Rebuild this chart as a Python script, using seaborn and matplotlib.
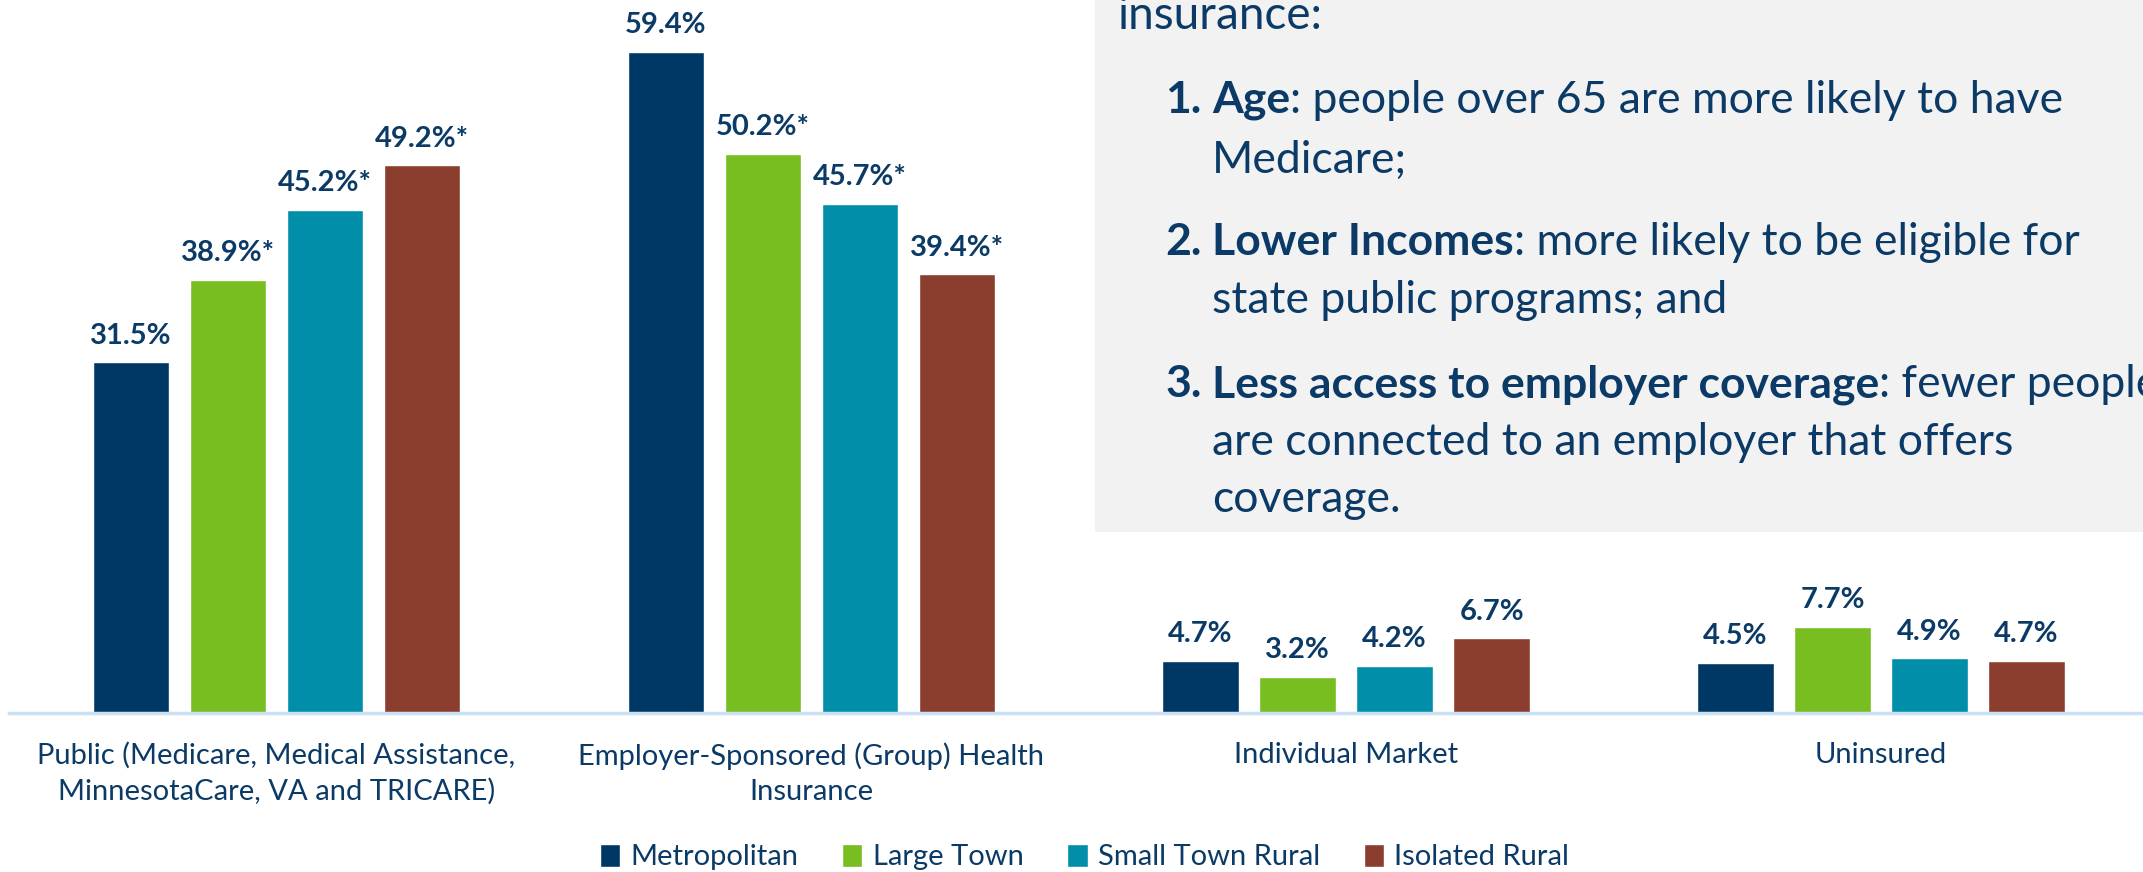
import matplotlib
matplotlib.use("Agg")
import matplotlib.pyplot as plt
import seaborn as sns
import pandas as pd
from matplotlib.patches import Rectangle

# chart data
categories = [
    "Public (Medicare, Medical Assistance,\nMinnesotaCare, VA and TRICARE)",
    "Employer-Sponsored (Group) Health\nInsurance",
    "Individual Market",
    "Uninsured",
]
regions = ["Metropolitan", "Large Town", "Small Town Rural", "Isolated Rural"]
metropolitan = [31.5, 59.4, 4.7, 4.5]
large_town = [38.9, 50.2, 3.2, 7.7]
small_town_rural = [45.2, 45.7, 4.2, 4.9]
isolated_rural = [49.2, 39.4, 6.7, 4.7]
# asterisk = significantly different from Metropolitan
metropolitan_sig = [False, False, False, False]
large_town_sig = [True, True, False, False]
small_town_rural_sig = [True, True, False, False]
isolated_rural_sig = [True, True, False, False]

box_intro = "insurance:"
box_items = [
    ("1.", "Age", ": people over 65 are more likely to have", ["Medicare;"]),
    ("2.", "Lower Incomes", ": more likely to be eligible for",
     ["state public programs; and"]),
    ("3.", "Less access to employer coverage", ": fewer people",
     ["are connected to an employer that offers", "coverage."]),
]

colors = ["#003865", "#78be21", "#008ea9", "#8b3d2e"]
navy = "#0b3a66"

values = [metropolitan, large_town, small_town_rural, isolated_rural]
sigs = [metropolitan_sig, large_town_sig, small_town_rural_sig, isolated_rural_sig]

rows = []
for reg, vals in zip(regions, values):
    for cat, v in zip(categories, vals):
        rows.append({"category": cat, "region": reg, "value": v})
df = pd.DataFrame(rows)

sns.set_style("white")
plt.rcParams["font.family"] = ["Lato", "DejaVu Sans"]

W, H = 2143, 872
fig = plt.figure(figsize=(W / 100, H / 100), dpi=100)
ax = fig.add_axes([9 / W, 1 - 713 / H, (W - 9) / W, 713 / H])

sns.barplot(data=df, x="category", y="value", hue="region", order=categories,
            hue_order=regions, palette=colors, width=0.7256, gap=0.212,
            saturation=1, ax=ax, legend=True)

for cont, vals, sg in zip(ax.containers, values, sigs):
    labels = [f"{v:.1f}%" + ("*" if s else "") for v, s in zip(vals, sg)]
    ax.bar_label(cont, labels=labels, padding=10, fontsize=21,
                 fontweight="bold", color=navy)

ax.set_xlim(-0.5, 3.49)
ax.set_ylim(0, 64.06)
ax.set_xlabel("")
ax.set_ylabel("")
ax.set_yticks([])
ax.tick_params(axis="x", length=0, pad=21, labelsize=21, labelcolor=navy)
for lbl in ax.get_xticklabels():
    lbl.set_linespacing(1.42)
for s in ["top", "left", "right"]:
    ax.spines[s].set_visible(False)
ax.spines["bottom"].set_color("#c9e0f5")
ax.spines["bottom"].set_linewidth(2.5)

handles, labels = ax.get_legend_handles_labels()
ax.get_legend().remove()
fig.legend(handles, labels, loc="center", bbox_to_anchor=(0.506, 1 - 857 / H),
           ncol=4, frameon=False, fontsize=21, labelcolor=navy,
           handlelength=0.7, handleheight=0.85, handletextpad=0.35,
           columnspacing=1.5)

# grey call-out box
fig.patches.append(Rectangle((1095 / W, 1 - 532 / H), 1 - 1095 / W, 532 / H,
                             transform=fig.transFigure, facecolor="#f2f2f2",
                             edgecolor="none", zorder=2))

fs = 32
renderer = fig.canvas.get_renderer()
fig.text(1117 / W, 1 - 29 / H, box_intro, fontsize=33, color=navy,
         va="baseline", zorder=3)
baselines = [[113, 173], [255, 313], [397, 455, 512]]
for (num, bold, rest, cont), ybs in zip(box_items, baselines):
    y = 1 - ybs[0] / H
    fig.text(1165 / W, y, num, fontsize=fs, fontweight="bold", color=navy,
             va="baseline", zorder=3)
    t = fig.text(1212 / W, y, bold, fontsize=fs, fontweight="bold",
                 color=navy, va="baseline", zorder=3)
    x1 = t.get_window_extent(renderer).x1
    fig.text(x1 / W, y, rest, fontsize=fs, color=navy, va="baseline", zorder=3)
    for line, yb in zip(cont, ybs[1:]):
        fig.text(1212 / W, 1 - yb / H, line, fontsize=fs, color=navy,
                 va="baseline", zorder=3)

fig.savefig("out.png", dpi=100)
